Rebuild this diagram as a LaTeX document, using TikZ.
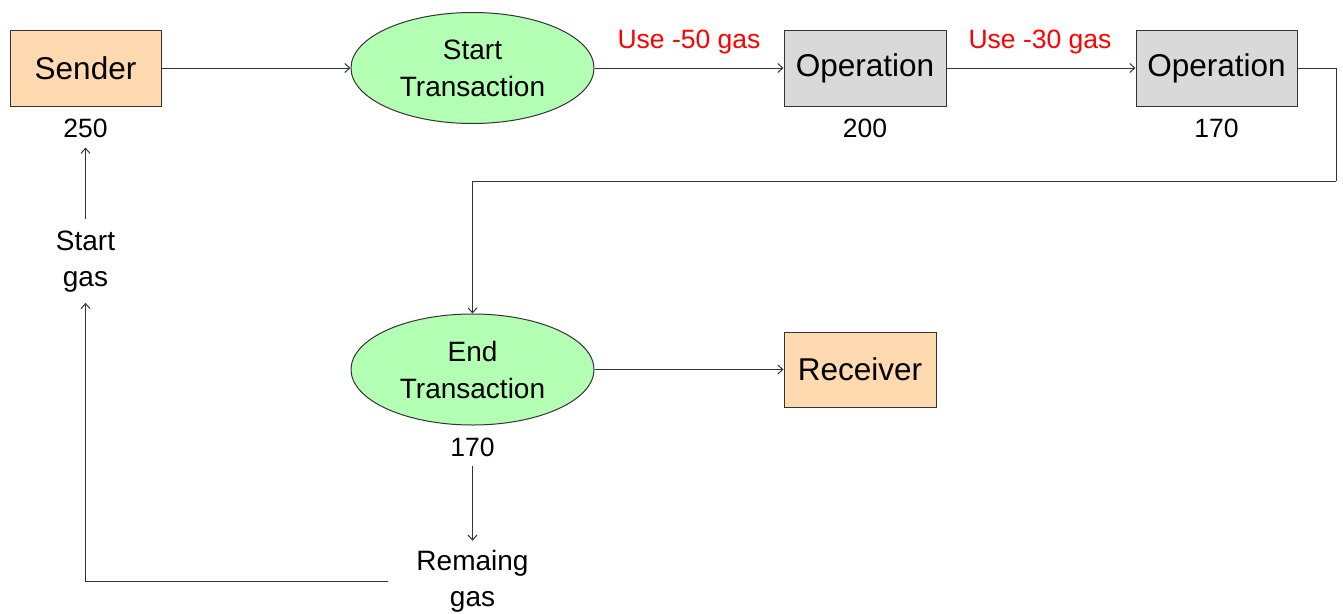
\documentclass[tikz,border=0pt]{standalone}
\usepackage{fontspec}
\setmainfont{Liberation Sans}
\usetikzlibrary{arrows.meta,shapes.geometric}
\definecolor{peach}{HTML}{FFD9B0}
\definecolor{lgreen}{HTML}{B3FFB3}
\definecolor{lgray}{HTML}{D9D9D9}
\definecolor{edgec}{HTML}{333333}
\tikzset{
  boxnode/.style={draw=edgec, line width=1pt, inner sep=0pt, font=\fontsize{31.5}{36}\selectfont, minimum height=76pt},
  ellnode/.style={ellipse, draw=edgec, line width=1pt, fill=lgreen, inner sep=0pt, minimum width=243pt, minimum height=111pt, align=center, font=\fontsize{28}{37}\selectfont},
  txt/.style={inner sep=0pt, align=center, font=\fontsize{28}{36}\selectfont},
  numtxt/.style={inner sep=0pt, font=\fontsize{26.5}{36}\selectfont},
  redtxt/.style={inner sep=0pt, text=red, font=\fontsize{26.5}{36}\selectfont},
  arr/.style={draw=edgec, line width=1pt, -{Straight Barb[length=5pt,width=9pt]}},
  ln/.style={draw=edgec, line width=1pt}
}
\begin{document}
\begin{tikzpicture}[x=1pt,y=-1pt]
\useasboundingbox (0,0) rectangle (1343,613);
% nodes
\node[boxnode, fill=peach, minimum width=151pt] (sender) at (85.5,68) {Sender};
\node[numtxt] (n250) at (85.5,128) {250};
\node[ellnode] (startt) at (472.5,68) {Start\\Transaction};
\node[boxnode, fill=lgray, minimum width=162pt] (op1) at (865,68) {Operation};
\node[numtxt] (n200) at (865,128) {200};
\node[boxnode, fill=lgray, minimum width=161pt] (op2) at (1216.5,68) {Operation};
\node[numtxt] (n170a) at (1216.5,128) {170};
\node[redtxt] (use50) at (689,42) {Use -50 gas};
\node[redtxt] (use30) at (1040,42) {Use -30 gas};
\node[ellnode] (endt) at (472.5,369.5) {End\\Transaction};
\node[numtxt] (n170b) at (472.5,447) {170};
\node[boxnode, fill=peach, minimum width=152pt, minimum height=75pt] (recv) at (860,369.5) {Receiver};
\node[txt] (rem) at (472.5,581) {Remaing\\gas};
\node[txt] (startgas) at (85.5,262) {Start\\gas};
\coordinate (corner) at (1336,181);
% connectors
\draw[arr] (sender.east) -- (startt.west);
\draw[arr] (startt.east) -- (op1.west);
\draw[arr] (op1.east) -- (op2.west);
\draw[ln] (op2.east) -| (corner);
\draw[arr] (corner) -| (endt.north);
\draw[arr] (endt.east) -- (recv.west);
\draw[arr, shorten <=9pt, shorten >=9pt] (n170b.south) -- (rem.north);
\draw[arr, shorten <=28pt, shorten >=10pt] (rem.west) -| (startgas.south);
\draw[arr, shorten <=12pt, shorten >=10pt] (startgas.north) -- (n250.south);
\end{tikzpicture}
\end{document}
